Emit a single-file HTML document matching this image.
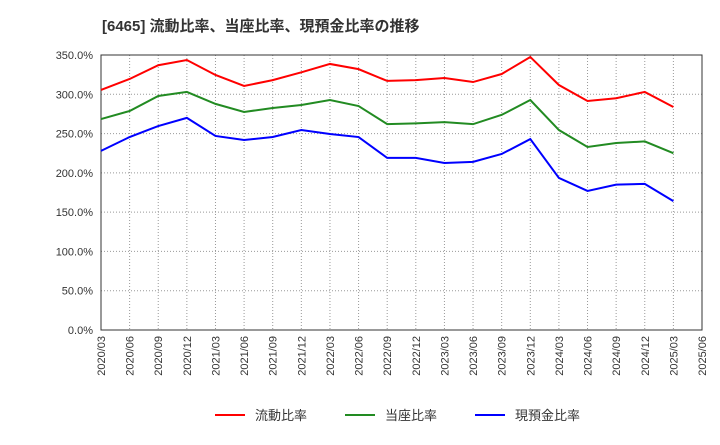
<!DOCTYPE html>
<html><head><meta charset="utf-8"><style>
body{margin:0;background:#fff;font-family:"Liberation Sans","Noto Sans CJK JP",sans-serif}
svg text{font-family:"Liberation Sans","Noto Sans CJK JP",sans-serif}
</style></head><body>
<svg id="c" width="720" height="440">
<text x="102" y="31" font-size="15" font-weight="bold" fill="#333">[6465]  流動比率、当座比率、現預金比率の推移</text>
<g id="grid"></g><g id="axes"></g><g id="series"></g>
<g id="legend"></g>
</svg>
<script>
const categories=["2020/03","2020/06","2020/09","2020/12","2021/03","2021/06","2021/09","2021/12","2022/03","2022/06","2022/09","2022/12","2023/03","2023/06","2023/09","2023/12","2024/03","2024/06","2024/09","2024/12","2025/03","2025/06"];
const currentRatio=[305.5,319.5,337,343.6,324.6,310.6,318,328,338.6,332,317,318,320.7,315.6,325.8,347.5,311.8,291.5,295,303,283.8];
const quickRatio=[268.5,278.7,297.8,303,287.8,277.5,282.6,286.4,292.7,285,262,263,264.6,262,273.8,292.7,254.5,233,238,240,225];
const cashRatio=[228,245.6,259.6,270,247,241.8,245.6,254.5,249.5,245.6,219,219,212.6,214,224,243,193.5,177,185,186,164];
const yTicks=[0,50,100,150,200,250,300,350];
const seriesNames=["流動比率","当座比率","現預金比率"];
const colors=["#ff0000","#228b22","#0000ff"];
const L=101,R=702,T=55,B=330,NS="http://www.w3.org/2000/svg";
const x=i=>L+(R-L)*i/(categories.length-1);
const y=v=>B-(B-T)*v/350;
function mk(t,a,p){const e=document.createElementNS(NS,t);for(const k in a)e.setAttribute(k,a[k]);p.appendChild(e);return e;}
const g=document.getElementById('grid'),ax=document.getElementById('axes'),s=document.getElementById('series'),lg=document.getElementById('legend');
categories.forEach((c,i)=>{
const l=mk('line',{x1:x(i),x2:x(i),y1:T,y2:B,stroke:'#999','stroke-dasharray':'1,2','stroke-width':1},g);


const t=mk('text',{x:0,y:0,'font-size':11,fill:'#333','text-anchor':'end',transform:`translate(${x(i)+4},${B+6}) rotate(-90)`},ax);
t.textContent=c;


});
yTicks.forEach(v=>{
const l=mk('line',{x1:L,x2:R,y1:y(v),y2:y(v),stroke:'#999','stroke-dasharray':'1,2','stroke-width':1},g);


const t=mk('text',{x:L-8,y:y(v)+4,'font-size':11,fill:'#333','text-anchor':'end'},ax);
t.textContent=v.toFixed(1)+'%';


});
const fr=mk('rect',{x:L,y:T,width:R-L,height:B-T,fill:'none',stroke:'#333','stroke-width':1},ax);


[currentRatio,quickRatio,cashRatio].forEach((d,k)=>{
const p=mk('polyline',{points:d.map((v,i)=>x(i)+','+y(v)).join(' '),fill:'none',stroke:colors[k],'stroke-width':2},s);


const lx=[215,345,475][k];
const ll=mk('line',{x1:lx,x2:lx+30,y1:415,y2:415,stroke:colors[k],'stroke-width':2},lg);


const lt=mk('text',{x:lx+40,y:420,'font-size':13,fill:'#333'},lg);
lt.textContent=seriesNames[k];


});
</script>
</body></html>
